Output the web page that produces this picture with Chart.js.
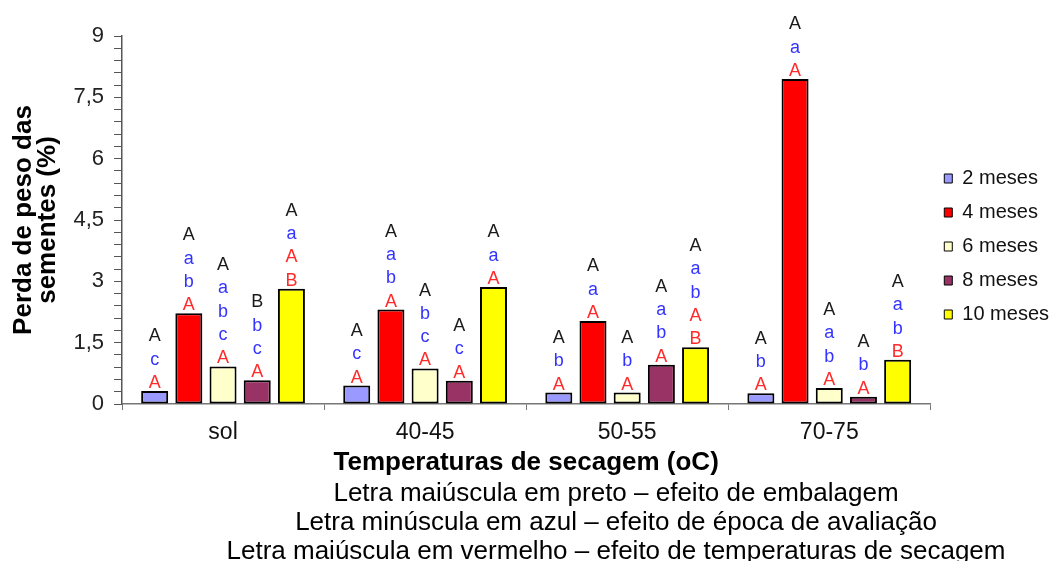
<!DOCTYPE html>
<html>
<head>
<meta charset="utf-8">
<script src="https://cdn.jsdelivr.net/npm/chart.js@4"></script>
<style>
    body { margin: 0; background: #fff; }
    canvas { display: block; }
</style>
</head>
<body>
<canvas id="chart" width="1053" height="561"></canvas>
<script>
// ===== Dados =====
const categorias = ['sol', '40-45', '50-55', '70-75'];
const series = ['2 meses', '4 meses', '6 meses', '8 meses', '10 meses'];

const meses2 = [0.32, 0.45, 0.28, 0.26];
const meses4 = [2.22, 2.31, 2.03, 7.95];
const meses6 = [0.92, 0.87, 0.28, 0.39];
const meses8 = [0.58, 0.57, 0.96, 0.18];
const meses10 = [2.82, 2.86, 1.39, 1.08];

// letras: embalagem (preto), época (azul), temperatura (vermelho)
const embalagem2 = ['A', 'A', 'A', 'A'];
const embalagem4 = ['A', 'A', 'A', 'A'];
const embalagem6 = ['A', 'A', 'A', 'A'];
const embalagem8 = ['B', 'A', 'A', 'A'];
const embalagem10 = ['A', 'A', 'A', 'A'];

const epoca2 = ['c', 'c', 'b', 'b'];
const epoca4 = ['ab', 'ab', 'a', 'a'];
const epoca6 = ['abc', 'bc', 'b', 'ab'];
const epoca8 = ['bc', 'c', 'ab', 'b'];
const epoca10 = ['a', 'a', 'ab', 'ab'];

const temperatura2 = ['A', 'A', 'A', 'A'];
const temperatura4 = ['A', 'A', 'A', 'A'];
const temperatura6 = ['A', 'A', 'A', 'A'];
const temperatura8 = ['A', 'A', 'A', 'A'];
const temperatura10 = ['AB', 'A', 'AB', 'B'];

const yTicks = ['0', '1,5', '3', '4,5', '6', '7,5', '9'];

const notas = [
    'Letra maiúscula em preto – efeito de embalagem',
    'Letra minúscula em azul – efeito de época de avaliação',
    'Letra maiúscula em vermelho – efeito de temperaturas de secagem'
];

const cores = ['#9999ff', '#ff0000', '#ffffcc', '#993366', '#ffff00'];
const valores = [meses2, meses4, meses6, meses8, meses10];
const embalagens = [embalagem2, embalagem4, embalagem6, embalagem8, embalagem10];
const epocas = [epoca2, epoca4, epoca6, epoca8, epoca10];
const temperaturas = [temperatura2, temperatura4, temperatura6, temperatura8, temperatura10];

const FONT = 'Liberation Sans, Arial, sans-serif';

// Letras acima das barras + notas de rodapé
const letrasPlugin = {
    id: 'letras',
    afterDatasetsDraw(chart) {
        const ctx = chart.ctx;
        ctx.save();
        ctx.font = '18px ' + FONT;
        ctx.textAlign = 'center';
        ctx.textBaseline = 'alphabetic';
        chart.data.datasets.forEach((ds, i) => {
            const meta = chart.getDatasetMeta(i);
            meta.data.forEach((bar, j) => {
                const linhas = [];
                linhas.push({ t: embalagens[i][j], c: '#1a1a1a' });
                epocas[i][j].split('').forEach(l => linhas.push({ t: l, c: '#3333ff' }));
                temperaturas[i][j].split('').forEach(l => linhas.push({ t: l, c: '#ff2a2a' }));
                let y = bar.y - 3;
                for (let k = linhas.length - 1; k >= 0; k--) {
                    ctx.fillStyle = linhas[k].c;
                    ctx.fillText(linhas[k].t, bar.x, y);
                    y -= 23.3;
                }
            });
        });
        ctx.restore();
    },
    afterDraw(chart) {
        const ctx = chart.ctx;
        ctx.save();
        ctx.font = '26px ' + FONT;
        ctx.fillStyle = '#000';
        ctx.textAlign = 'center';
        ctx.textBaseline = 'middle';
        notas.forEach((n, k) => ctx.fillText(n, 616, 494 + k * 29));
        ctx.restore();
    }
};

new Chart(document.getElementById('chart'), {
    type: 'bar',
    data: {
        labels: categorias,
        datasets: series.map((s, i) => ({
            label: s,
            data: valores[i],
            backgroundColor: cores[i],
            borderColor: '#000',
            borderWidth: 2,
            borderSkipped: false,
            categoryPercentage: 0.846,
            barPercentage: 0.79
        }))
    },
    options: {
        responsive: false,
        animation: false,
        layout: {
            padding: { top: 36, right: -6, bottom: 83, left: 4 }
        },
        plugins: {
            legend: {
                position: 'right',
                fullSize: false,
                title: {
                    display: true,
                    text: '',
                    font: { size: 10 },
                    padding: { top: 0, bottom: 41 }
                },
                labels: {
                    boxWidth: 8,
                    boxHeight: 9,
                    padding: 14,
                    color: '#111',
                    font: { family: FONT, size: 20 },
                    generateLabels(chart) {
                        return Chart.defaults.plugins.legend.labels.generateLabels(chart)
                            .map(l => ({ ...l, lineWidth: 1 }));
                    }
                }
            },
            tooltip: { enabled: false }
        },
        scales: {
            x: {
                grid: {
                    display: true,
                    drawOnChartArea: false,
                    tickLength: 6,
                    color: '#777'
                },
                border: { color: '#777', width: 1.5 },
                ticks: {
                    color: '#111',
                    padding: 9,
                    font: { family: FONT, size: 23 }
                },
                title: {
                    display: true,
                    text: 'Temperaturas de secagem (oC)',
                    color: '#000',
                    font: { family: FONT, size: 26, weight: 'bold' },
                    padding: { top: 0, bottom: 0 }
                },
                afterFit(scale) { scale.height = 74; }
            },
            y: {
                min: 0,
                max: 9,
                grid: {
                    display: true,
                    drawOnChartArea: false,
                    tickLength: 8,
                    color: '#555'
                },
                border: { color: '#555', width: 1.5 },
                ticks: {
                    stepSize: 0.3,
                    autoSkip: false,
                    color: '#222',
                    padding: 10,
                    font: { family: FONT, size: 22 },
                    callback(value) {
                        const k = Math.round(value / 1.5);
                        return Math.abs(value - k * 1.5) < 1e-6 ? yTicks[k] : '';
                    }
                },
                title: {
                    display: true,
                    text: ['Perda de peso das', 'sementes (%)'],
                    color: '#000',
                    font: { family: FONT, size: 26, weight: 'bold', lineHeight: 0.92 },
                    padding: { top: 8, bottom: 4 }
                },
                afterFit(scale) { scale.width = 118; }
            }
        }
    },
    plugins: [letrasPlugin]
});
</script>
</body>
</html>
